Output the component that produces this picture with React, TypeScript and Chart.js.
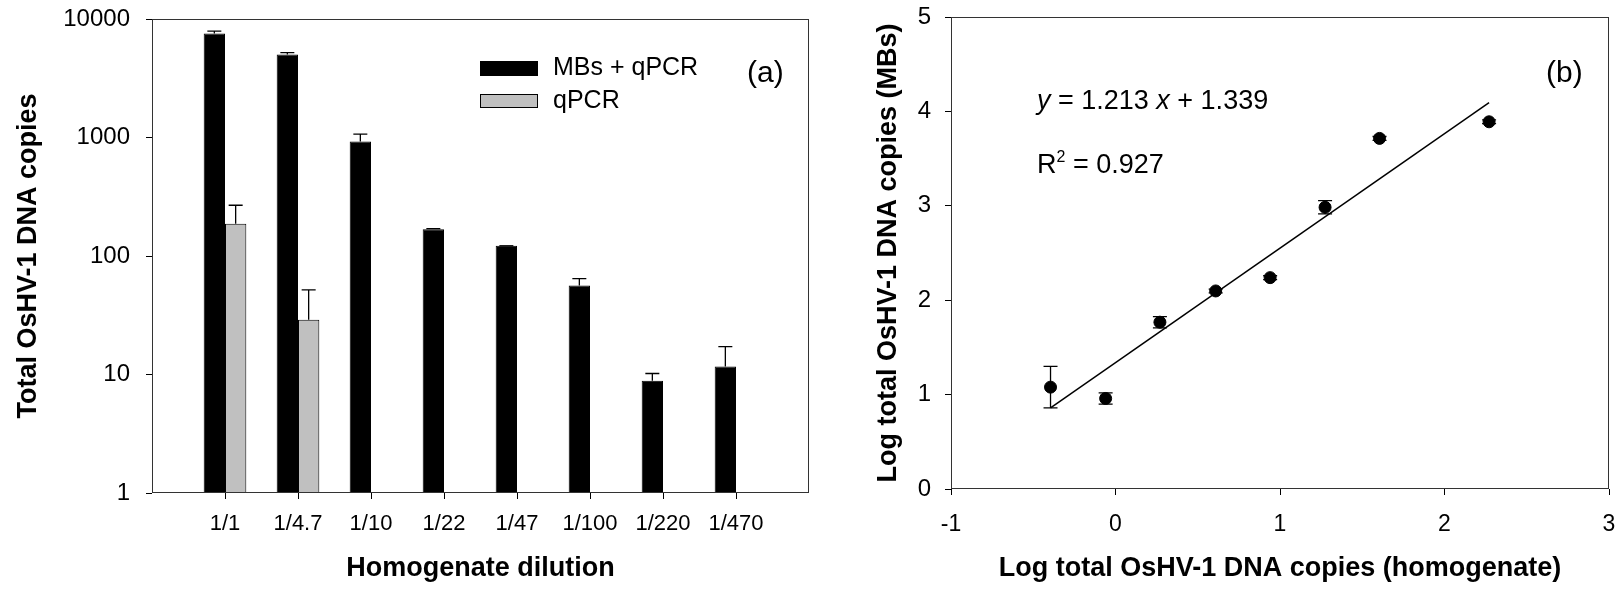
import React, { useEffect, useRef } from 'react';
import { Chart, registerables } from 'chart.js';

Chart.register(...registerables);

const FONT = "'Liberation Sans', Arial, Helvetica, sans-serif";

// ---------- Panel (a) data ----------
const dilutionLabels = ['1/1', '1/4.7', '1/10', '1/22', '1/47', '1/100', '1/220', '1/470'];
const mbsQpcrValues = [7540, 5010, 927, 168, 122, 56.5, 8.85, 11.7];
const mbsQpcrErrors = [350, 200, 142, 2, 0, 7.9, 1.35, 5.5];
const qpcrValues = [187, 29, null, null, null, null, null, null];
const qpcrErrors = [81, 22.7, null, null, null, null, null, null];
const logAxisTicks = [1, 10, 100, 1000, 10000];

// ---------- Panel (b) data ----------
const logHomogenate = [-0.395, -0.06, 0.27, 0.609, 0.94, 1.274, 1.605, 2.271];
const logMBs = [1.079, 0.959, 1.767, 2.098, 2.239, 2.984, 3.714, 3.89];
const logMBsErrors = [0.22, 0.06, 0.06, 0.02, 0.02, 0.07, 0.02, 0.02];
const slope = 1.213;
const intercept = 1.339;
const rSquared = 0.927;

const frameColor = '#333';

const framePlugin = {
  id: 'frame',
  afterDatasetsDraw(chart: any) {
    const { ctx, chartArea: a } = chart;
    ctx.save();
    ctx.strokeStyle = frameColor;
    ctx.lineWidth = 1;
    const l = Math.round(a.left) + 0.5;
    const t = Math.round(a.top) + 0.5;
    const r = Math.round(a.right) - 0.5;
    const b = Math.round(a.bottom) - 0.5;
    ctx.strokeRect(l, t, r - l, b - t);
    ctx.restore();
  },
};

const errorBarPlugin = {
  id: 'errorBars',
  afterDatasetsDraw(chart: any) {
    const { ctx } = chart;
    const yScale = chart.scales.y;
    chart.data.datasets.forEach((ds: any, di: number) => {
      if (!ds.errors) return;
      const meta = chart.getDatasetMeta(di);
      meta.data.forEach((el: any, i: number) => {
        const v = ds.data[i];
        const e = ds.errors[i];
        if (v == null || e == null) return;
        const val = typeof v === 'object' ? v.y : v;
        const x = el.x;
        const yTop = yScale.getPixelForValue(val + e);
        const yBase = yScale.getPixelForValue(val);
        const yBot = ds.symmetric ? yScale.getPixelForValue(val - e) : yBase;
        const cap = ds.capHalf || 7;
        ctx.save();
        ctx.strokeStyle = '#000';
        ctx.lineWidth = 1.3;
        ctx.beginPath();
        ctx.moveTo(x, yBot);
        ctx.lineTo(x, yTop);
        ctx.moveTo(x - cap, yTop);
        ctx.lineTo(x + cap, yTop);
        if (ds.symmetric) {
          ctx.moveTo(x - cap, yBot);
          ctx.lineTo(x + cap, yBot);
        }
        ctx.stroke();
        ctx.restore();
      });
    });
  },
};

function drawPieces(ctx: CanvasRenderingContext2D, pieces: any[], x: number, y: number) {
  let cx = x;
  for (const p of pieces) {
    ctx.font = p.font;
    ctx.fillText(p.text, cx, y + (p.dy || 0));
    cx += ctx.measureText(p.text).width;
  }
}

const leftTextPlugin = {
  id: 'leftText',
  afterDraw(chart: any) {
    const { ctx } = chart;
    ctx.save();
    ctx.textBaseline = 'middle';
    ctx.textAlign = 'left';
    const items = [
      { ds: chart.data.datasets[0], y: 61, h: 15, ty: 68.5 },
      { ds: chart.data.datasets[1], y: 94, h: 14, ty: 101 },
    ];
    for (const it of items) {
      ctx.fillStyle = it.ds.backgroundColor;
      ctx.fillRect(480, it.y, 58, it.h);
      ctx.strokeStyle = '#000';
      ctx.lineWidth = 1;
      ctx.strokeRect(480.5, it.y + 0.5, 57, it.h - 1);
      ctx.fillStyle = '#000';
      ctx.font = `25px ${FONT}`;
      ctx.fillText(it.ds.label, 553, it.ty);
    }
    ctx.textBaseline = 'alphabetic';
    ctx.font = `30px ${FONT}`;
    ctx.fillText('(a)', 747, 82);
    ctx.restore();
  },
};

const rightTextPlugin = {
  id: 'rightText',
  afterDraw(chart: any) {
    const { ctx } = chart;
    ctx.save();
    ctx.fillStyle = '#000';
    ctx.textBaseline = 'alphabetic';
    ctx.textAlign = 'left';
    const reg = `27px ${FONT}`;
    const ita = `italic 27px ${FONT}`;
    drawPieces(ctx, [
      { text: 'y', font: ita },
      { text: ' = ' + slope.toFixed(3) + ' ', font: reg },
      { text: 'x', font: ita },
      { text: ' + ' + intercept.toFixed(3), font: reg },
    ], 207, 109);
    drawPieces(ctx, [
      { text: 'R', font: reg },
      { text: '2', font: `16px ${FONT}`, dy: -11 },
      { text: ' = ' + rSquared.toFixed(3), font: reg },
    ], 207, 173);
    ctx.font = `30px ${FONT}`;
    ctx.fillText('(b)', 716, 82);
    ctx.restore();
  },
};

// remove Chart.js's automatic label-overflow padding so the layout padding sets the plot box exactly
const noPad = (s: any) => {
  s.paddingTop = 0;
  s.paddingBottom = 0;
  s.paddingLeft = 0;
  s.paddingRight = 0;
};

export default function App() {
  const leftRef = useRef<HTMLCanvasElement>(null);
  const rightRef = useRef<HTMLCanvasElement>(null);

  useEffect(() => {
    const labels = ['', ...dilutionLabels, ''];
    const pad = (arr: any[]) => [null, ...arr, null];

    const left = new Chart(leftRef.current!, {
      type: 'bar',
      data: {
        labels,
        datasets: [
          {
            label: 'MBs + qPCR',
            data: pad(mbsQpcrValues),
            backgroundColor: '#000000',
            borderColor: '#000000',
            borderWidth: 1,
            barPercentage: 1,
            categoryPercentage: 0.584,
            errors: pad(mbsQpcrErrors),
          } as any,
          {
            label: 'qPCR',
            data: pad(qpcrValues),
            backgroundColor: '#c0c0c0',
            borderColor: '#000000',
            borderWidth: 1,
            barPercentage: 1,
            categoryPercentage: 0.584,
            errors: pad(qpcrErrors),
          } as any,
        ],
      },
      options: {
        responsive: false,
        animation: false,
        devicePixelRatio: 1,
        layout: { padding: { top: 19, right: 21, left: 0, bottom: 0 } },
        plugins: { legend: { display: false }, tooltip: { enabled: false } },
        scales: {
          x: {
            type: 'category',
            offset: false,
            grid: {
              offset: false,
              drawOnChartArea: false,
              drawTicks: true,
              tickLength: 6,
              lineWidth: 1,
              color: (c: any) => (c.index === 0 || c.index === labels.length - 1 ? 'rgba(0,0,0,0)' : '#000'),
            },
            border: { display: false },
            ticks: {
              autoSkip: false,
              maxRotation: 0,
              minRotation: 0,
              padding: 12,
              color: '#000',
              font: { family: FONT, size: 22 },
            },
            title: {
              display: true,
              text: 'Homogenate dilution',
              color: '#000',
              font: { family: FONT, size: 27, weight: 'bold' },
              padding: { top: 0, bottom: 4 },
            },
            afterFit: (s: any) => { s.height = 96; noPad(s); },
          },
          y: {
            type: 'logarithmic',
            min: 1,
            max: 10000,
            afterBuildTicks: (s: any) => { s.ticks = logAxisTicks.map((v) => ({ value: v })); },
            grid: {
              drawOnChartArea: false,
              drawTicks: true,
              tickLength: 6,
              lineWidth: 1,
              color: '#000',
            },
            border: { display: false },
            ticks: {
              padding: 16,
              color: '#000',
              font: { family: FONT, size: 24 },
              callback: (v: any) => String(v),
            },
            title: {
              display: true,
              text: 'Total OsHV-1 DNA copies',
              color: '#000',
              font: { family: FONT, size: 27, weight: 'bold' },
              padding: { top: 12, bottom: 0 },
            },
            afterFit: (s: any) => { s.width = 152; noPad(s); },
          },
        },
      } as any,
      plugins: [framePlugin, errorBarPlugin, leftTextPlugin],
    });

    const xMin = Math.min(...logHomogenate);
    const xMax = Math.max(...logHomogenate);

    const right = new Chart(rightRef.current!, {
      type: 'scatter',
      data: {
        datasets: [
          {
            type: 'line',
            label: 'fit',
            data: [
              { x: xMin, y: slope * xMin + intercept },
              { x: xMax, y: slope * xMax + intercept },
            ],
            borderColor: '#000',
            borderWidth: 1.5,
            pointRadius: 0,
            fill: false,
            showLine: true,
          } as any,
          {
            label: 'MBs',
            data: logHomogenate.map((x, i) => ({ x, y: logMBs[i] })),
            backgroundColor: '#000',
            borderColor: '#000',
            pointRadius: 6,
            pointHoverRadius: 6,
            errors: logMBsErrors,
            symmetric: true,
            capHalf: 7,
          } as any,
        ],
      },
      options: {
        responsive: false,
        animation: false,
        devicePixelRatio: 1,
        layout: { padding: { top: 17, right: 12, left: 0, bottom: 0 } },
        plugins: { legend: { display: false }, tooltip: { enabled: false } },
        scales: {
          x: {
            type: 'linear',
            min: -1,
            max: 3,
            grid: {
              drawOnChartArea: false,
              drawTicks: true,
              tickLength: 6,
              lineWidth: 1,
              color: '#000',
            },
            border: { display: false },
            ticks: {
              stepSize: 1,
              padding: 16,
              maxRotation: 0,
              color: '#000',
              font: { family: FONT, size: 23 },
            },
            title: {
              display: true,
              text: 'Log total OsHV-1 DNA copies (homogenate)',
              color: '#000',
              font: { family: FONT, size: 27, weight: 'bold' },
              padding: { top: 0, bottom: 4 },
            },
            afterFit: (s: any) => { s.height = 100; noPad(s); },
          },
          y: {
            type: 'linear',
            min: 0,
            max: 5,
            grid: {
              drawOnChartArea: false,
              drawTicks: true,
              tickLength: 6,
              lineWidth: 1,
              color: '#000',
            },
            border: { display: false },
            ticks: {
              stepSize: 1,
              padding: 14,
              color: '#000',
              font: { family: FONT, size: 24 },
            },
            title: {
              display: true,
              text: 'Log total OsHV-1 DNA copies (MBs)',
              color: '#000',
              font: { family: FONT, size: 27, weight: 'bold' },
              padding: { top: 42, bottom: 0 },
            },
            afterFit: (s: any) => { s.width = 121; noPad(s); },
          },
        },
      } as any,
      plugins: [framePlugin, errorBarPlugin, rightTextPlugin],
    });

    return () => {
      left.destroy();
      right.destroy();
    };
  }, []);

  return (
    <div style={{ position: 'absolute', left: 0, top: 0, width: 1621, height: 589, background: '#fff' }}>
      <canvas ref={leftRef} width={830} height={589} style={{ position: 'absolute', left: 0, top: 0 }} />
      <canvas ref={rightRef} width={791} height={589} style={{ position: 'absolute', left: 830, top: 0 }} />
    </div>
  );
}
